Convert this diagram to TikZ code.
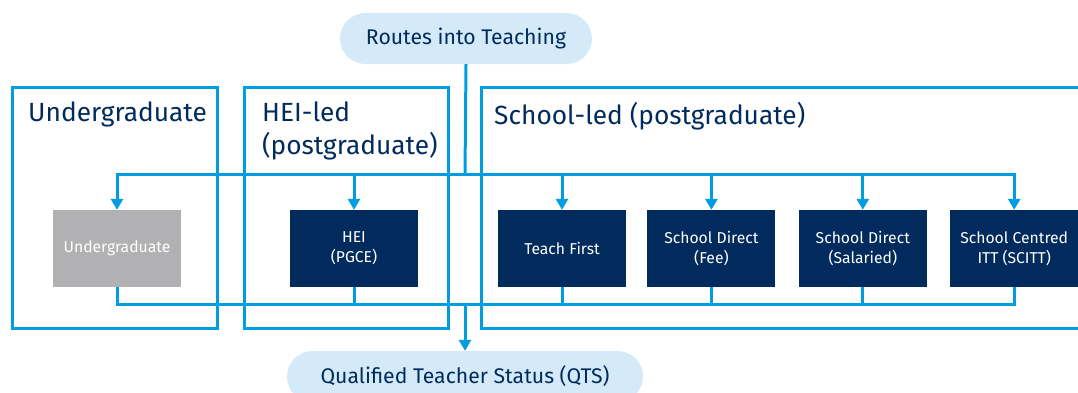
\documentclass[tikz,border=0pt]{standalone}
\usepackage{fontspec}
\setmainfont{Fira Sans}
\usetikzlibrary{positioning, arrows.meta}

\definecolor{linkblue}{HTML}{009EE0}
\definecolor{navy}{HTML}{002B5C}
\definecolor{pillblue}{HTML}{D4EAF8}
\definecolor{uggray}{HTML}{B1B1B3}

\tikzset{
  groupbox/.style={draw=linkblue, line width=3pt, minimum height=241pt, inner sep=0pt},
  heading/.style={text=navy, anchor=north west, align=left, inner sep=0pt, font=\fontsize{26.3}{33}\selectfont},
  pill/.style={fill=pillblue, text=navy, rounded corners=25.5pt, minimum height=51pt, font=\fontsize{21.2}{24}\selectfont},
  routebox/.style={fill=navy, text=white, minimum width=128pt, minimum height=77pt, align=center, inner sep=0pt, font=\fontsize{15.7}{20}\selectfont},
  link/.style={draw=linkblue, line width=3pt},
  feed/.style={link, -{Triangle[width=12pt, length=11pt]}},
}

\begin{document}
\begin{tikzpicture}[x=1pt, y=-1pt]
\useasboundingbox (0,0) rectangle (1078,392);

% groups
\node[groupbox, minimum width=205pt] at (114.5,207.5) (ugframe) {};
\node[groupbox, minimum width=204pt] at (346,207.5) (heiframe) {};
\node[groupbox, minimum width=609pt] at (785.5,207.5) (schoolframe) {};

\node[heading] at (28,102) (ugtitle) {Undergraduate};
\node[heading] at (262,102) (heititle) {HEI-led\\(postgraduate)};
\node[heading] at (494,102) (schooltitle) {School-led (postgraduate)};

% start and end
\node[pill, minimum width=252pt] at (466,38.5) (routes) {Routes into Teaching};
\node[pill, minimum width=356pt] at (465,376.5) (qts) {Qualified Teacher Status (QTS)};

% routes
\node[routebox, fill=uggray] at (117,248.5) (ug) {Undergraduate};
\node[routebox] at (354,248.5) (hei) {HEI\\(PGCE)};
\node[routebox] at (562,248.5) (teachfirst) {Teach First};
\node[routebox, right=21pt of teachfirst] (fee) {School Direct\\(Fee)};
\node[routebox, right=23pt of fee] (salaried) {School Direct\\(Salaried)};
\node[routebox, right=23pt of salaried] (scitt) {School Centred\\ITT (SCITT)};

\coordinate (topbus) at (465,174);
\coordinate (botbus) at (465,304);

\draw[link] (routes.south) -- (topbus);
\draw[feed] (topbus) -| (ug.north);
\draw[feed] (topbus) -| (scitt.north);
\foreach \r in {hei, teachfirst, fee, salaried}
  \draw[feed] (topbus -| \r.north) -- (\r.north);

\draw[link] (ug.south) |- (botbus) -| (scitt.south);
\foreach \r in {hei, teachfirst, fee, salaried}
  \draw[link] (\r.south) -- (\r.south |- botbus);
\draw[feed] (botbus) -- (qts.north);
\end{tikzpicture}
\end{document}
